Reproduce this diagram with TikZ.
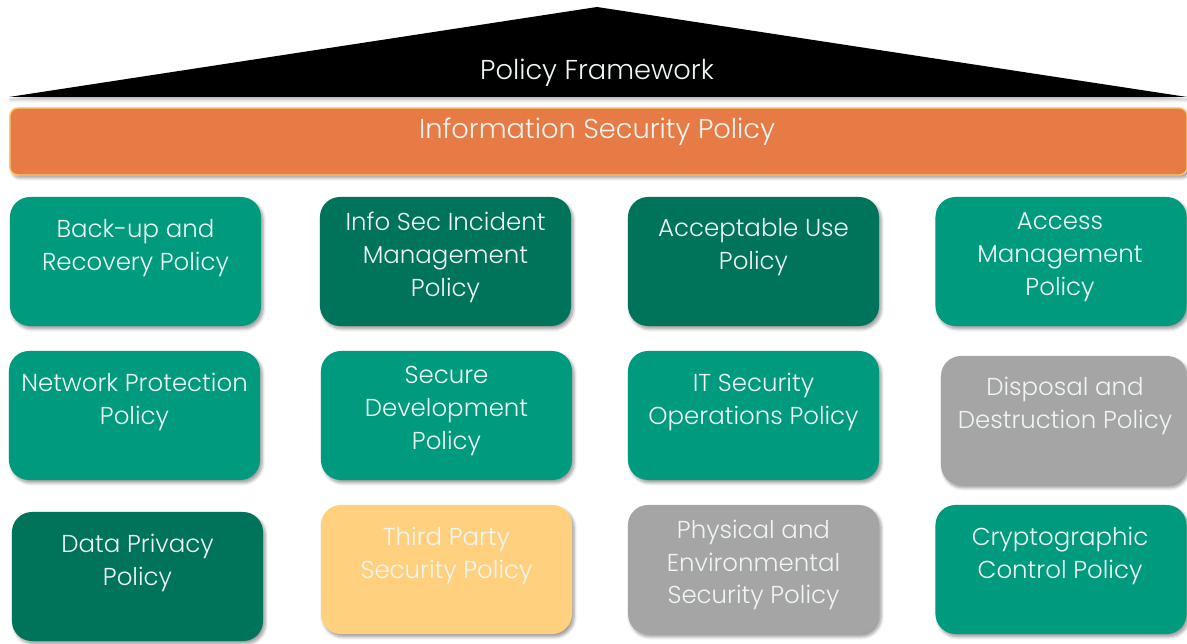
\documentclass[tikz,border=0pt]{standalone}
\usepackage{fontspec}
\setmainfont{Poppins}[UprightFont={* Light}]
\usetikzlibrary{shadows.blur}

\definecolor{boxteal}{HTML}{009B7E}
\definecolor{boxdark}{HTML}{00735B}
\definecolor{boxgrey}{HTML}{A5A5A5}
\definecolor{boxsand}{HTML}{FFD17F}
\definecolor{barorange}{HTML}{E77B45}
\definecolor{barline}{HTML}{FFC76A}
\definecolor{txtwhite}{HTML}{EEF5F2}

\tikzset{
    pbox/.style={rectangle, rounded corners=0.5cm, inner sep=0pt,
        minimum width=6.275cm, minimum height=3.225cm,
        blur shadow={shadow xshift=1.5pt, shadow yshift=-2pt, shadow blur steps=6, shadow opacity=40}},
    ptext/.style={align=center, text=txtwhite, font=\fontsize{17.4}{23.4}\selectfont},
    ttext/.style={ptext, font=\fontsize{19.4}{23.4}\selectfont},
}

\begin{document}
\begin{tikzpicture}[x=0.025cm, y=-0.025cm]
    \useasboundingbox (0,0) rectangle (1187,643);

    % roof
    \fill[black, blur shadow={shadow xshift=1pt, shadow yshift=-2pt, shadow opacity=30}]
        (9,97) -- (597,7) -- (1187,97) -- cycle;
    \node[ttext] (frame) at (597,73) {Policy Framework};

    % top policy bar
    \node[pbox, minimum width=29.425cm, minimum height=1.675cm, rounded corners=0.2cm,
        fill=barorange, draw=barline, line width=1pt] (isp) at (598.5,141.5) {};
    \node[ttext] (isp-txt) at (597,132) {Information Security Policy};

    % first row
    \node[pbox, fill=boxteal] (backup) at (135.5,261.5) {};
    \node[ptext] (backup-txt) at (135.5,248.5) {Back-up and\\Recovery Policy};
    \node[pbox, fill=boxdark] (incident) at (445.5,261.5) {};
    \node[ptext] (incident-txt) at (445.5,257) {Info Sec Incident\\Management\\Policy};
    \node[pbox, fill=boxdark] (use) at (753.5,261.5) {};
    \node[ptext] (use-txt) at (753.5,247.5) {Acceptable Use\\Policy};
    \node[pbox, fill=boxteal] (access) at (1061,261.5) {};
    \node[ptext] (access-txt) at (1060,257) {Access\\Management\\Policy};

    % second row
    \node[pbox, fill=boxteal] (network) at (134.5,415.5) {};
    \node[ptext] (network-txt) at (134.5,401.5) {Network Protection\\Policy};
    \node[pbox, fill=boxteal] (devel) at (446.5,415.5) {};
    \node[ptext] (devel-txt) at (446.5,411) {Secure\\Development\\Policy};
    \node[pbox, fill=boxteal] (itops) at (753.5,415.5) {};
    \node[ptext] (itops-txt) at (753.5,401.5) {IT Security\\Operations Policy};
    \node[pbox, fill=boxgrey, minimum width=6.15cm] (disposal) at (1064,420.5) {};
    \node[ptext] (disposal-txt) at (1065,405.5) {Disposal and\\Destruction Policy};

    % third row
    \node[pbox, fill=boxdark] (privacy) at (137.5,576.5) {};
    \node[ptext] (privacy-txt) at (137.5,562.5) {Data Privacy\\Policy};
    \node[pbox, fill=boxsand] (third) at (446.5,569.5) {};
    \node[ptext] (third-txt) at (446.5,555.5) {Third Party\\Security Policy};
    \node[pbox, fill=boxgrey] (physical) at (753.5,569.5) {};
    \node[ptext] (physical-txt) at (753.5,565) {Physical and\\Environmental\\Security Policy};
    \node[pbox, fill=boxteal] (crypto) at (1061,569.5) {};
    \node[ptext] (crypto-txt) at (1060,555.5) {Cryptographic\\Control Policy};
\end{tikzpicture}
\end{document}
